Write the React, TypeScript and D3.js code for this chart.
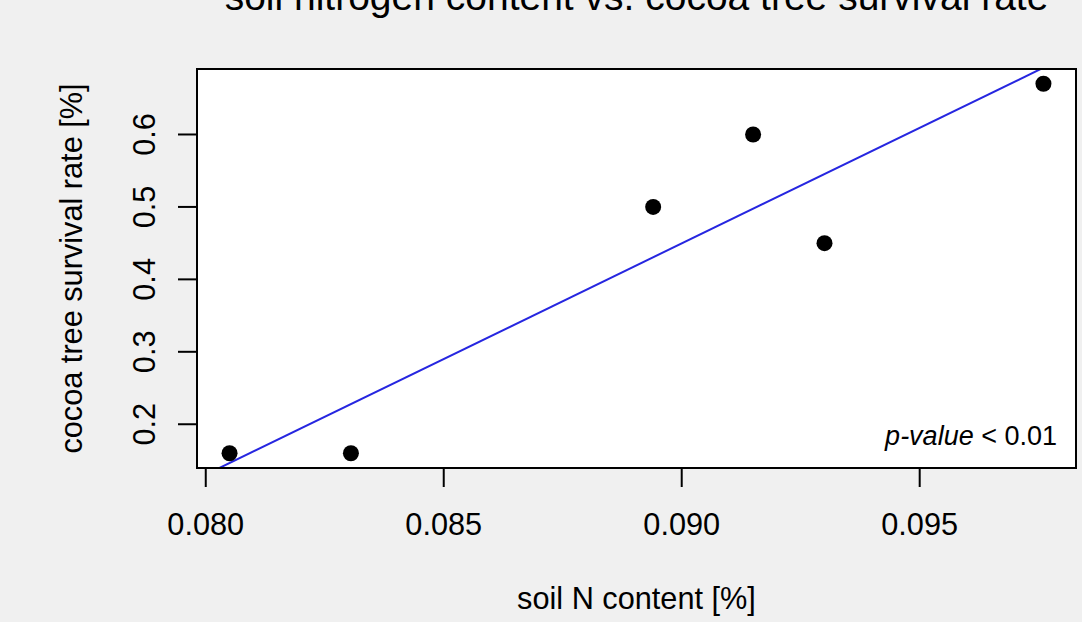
import React, { useEffect, useRef } from "react";
import * as d3 from "d3";

// soil N content [%] and cocoa tree survival rate per plot
const soilN = [0.0805, 0.08305, 0.0894, 0.0915, 0.093, 0.0976];
const survival = [0.16, 0.16, 0.5, 0.6, 0.45, 0.67];

const xTicks = [0.08, 0.085, 0.09, 0.095];
const xTickLabels = ["0.080", "0.085", "0.090", "0.095"];
const yTicks = [0.2, 0.3, 0.4, 0.5, 0.6];
const yTickLabels = ["0.2", "0.3", "0.4", "0.5", "0.6"];

const title = "soil nitrogen content vs. cocoa tree survival rate";
const xLabel = "soil N content [%]";
const yLabel = "cocoa tree survival rate [%]";

const W = 1082;
const H = 622;
const font = "'Liberation Sans', Arial, Helvetica, sans-serif";

// R style 4% range extension
const padRange = (vals: number[]) => {
  const [lo, hi] = d3.extent(vals) as [number, number];
  const d = (hi - lo) * 0.04;
  return [lo - d, hi + d];
};

const App = () => {
  const ref = useRef<SVGSVGElement>(null);

  useEffect(() => {
    document.body.style.margin = "0";
    const svg = d3.select(ref.current);
    svg.selectAll("*").remove();

    const plot = { left: 197, right: 1076, top: 69, bottom: 468 };

    const x = d3.scaleLinear().domain(padRange(soilN)).range([plot.left, plot.right]);
    const y = d3.scaleLinear().domain(padRange(survival)).range([plot.bottom, plot.top]);

    svg.append("rect").attr("width", W).attr("height", H).attr("fill", "#f0f0f0");
    svg
      .append("rect")
      .attr("x", plot.left)
      .attr("y", plot.top)
      .attr("width", plot.right - plot.left)
      .attr("height", plot.bottom - plot.top)
      .attr("fill", "#ffffff");

    svg
      .append("clipPath")
      .attr("id", "plotclip")
      .append("rect")
      .attr("x", plot.left)
      .attr("y", plot.top)
      .attr("width", plot.right - plot.left)
      .attr("height", plot.bottom - plot.top);

    // least squares fit, like abline(lm(...))
    const mx = d3.mean(soilN) as number;
    const my = d3.mean(survival) as number;
    const sxy = d3.sum(soilN, (v, i) => (v - mx) * (survival[i] - my));
    const sxx = d3.sum(soilN, (v) => (v - mx) * (v - mx));
    const slope = sxy / sxx;
    const icpt = my - slope * mx;
    const [x0, x1] = x.domain();
    const fit: [number, number][] = [
      [x0 - 0.01, icpt + slope * (x0 - 0.01)],
      [x1 + 0.01, icpt + slope * (x1 + 0.01)],
    ];

    svg
      .append("path")
      .attr("clip-path", "url(#plotclip)")
      .attr("fill", "none")
      .attr("stroke", "#2626e0")
      .attr("stroke-width", 2)
      .attr(
        "d",
        d3
          .line<[number, number]>()
          .x((d) => x(d[0]))
          .y((d) => y(d[1]))(fit)
      );

    svg
      .append("g")
      .selectAll("circle")
      .data(soilN)
      .join("circle")
      .attr("cx", (d) => x(d))
      .attr("cy", (d, i) => y(survival[i]))
      .attr("r", 8)
      .attr("fill", "#000");

    svg
      .append("rect")
      .attr("x", plot.left)
      .attr("y", plot.top)
      .attr("width", plot.right - plot.left)
      .attr("height", plot.bottom - plot.top)
      .attr("fill", "none")
      .attr("stroke", "#000")
      .attr("stroke-width", 2);

    // x axis
    const gx = svg.append("g").attr("stroke", "#000").attr("stroke-width", 2);
    gx.append("line")
      .attr("x1", x(xTicks[0]))
      .attr("x2", x(xTicks[xTicks.length - 1]))
      .attr("y1", plot.bottom)
      .attr("y2", plot.bottom);
    gx.selectAll("line.tick")
      .data(xTicks)
      .join("line")
      .attr("class", "tick")
      .attr("x1", (d) => x(d))
      .attr("x2", (d) => x(d))
      .attr("y1", plot.bottom)
      .attr("y2", plot.bottom + 19);
    svg
      .append("g")
      .selectAll("text")
      .data(xTicks)
      .join("text")
      .attr("x", (d) => x(d))
      .attr("y", 535)
      .attr("text-anchor", "middle")
      .attr("font-family", font)
      .attr("font-size", 30.7)
      .attr("fill", "#000")
      .text((d, i) => xTickLabels[i]);

    // y axis
    const gy = svg.append("g").attr("stroke", "#000").attr("stroke-width", 2);
    gy.append("line")
      .attr("x1", plot.left)
      .attr("x2", plot.left)
      .attr("y1", y(yTicks[0]))
      .attr("y2", y(yTicks[yTicks.length - 1]));
    gy.selectAll("line.tick")
      .data(yTicks)
      .join("line")
      .attr("class", "tick")
      .attr("x1", plot.left - 19)
      .attr("x2", plot.left)
      .attr("y1", (d) => y(d))
      .attr("y2", (d) => y(d));
    svg
      .append("g")
      .selectAll("text")
      .data(yTicks)
      .join("text")
      .attr("transform", (d) => `translate(155,${y(d)}) rotate(-90)`)
      .attr("text-anchor", "middle")
      .attr("font-family", font)
      .attr("font-size", 30.7)
      .attr("fill", "#000")
      .text((d, i) => yTickLabels[i]);

    const cx = (plot.left + plot.right) / 2;
    const cy = (plot.top + plot.bottom) / 2;

    // title sits partly above the page edge, as in the original
    svg
      .append("text")
      .attr("x", cx)
      .attr("y", 10)
      .attr("text-anchor", "middle")
      .attr("font-family", font)
      .attr("font-size", 39)
      .attr("fill", "#000")
      .text(title);

    svg
      .append("text")
      .attr("x", cx)
      .attr("y", 609)
      .attr("text-anchor", "middle")
      .attr("font-family", font)
      .attr("font-size", 30.7)
      .attr("fill", "#000")
      .text(xLabel);

    svg
      .append("text")
      .attr("transform", `translate(82,${cy}) rotate(-90)`)
      .attr("text-anchor", "middle")
      .attr("font-family", font)
      .attr("font-size", 30.7)
      .attr("fill", "#000")
      .text(yLabel);

    const pv = svg
      .append("text")
      .attr("x", 1057)
      .attr("y", 445)
      .attr("text-anchor", "end")
      .attr("font-family", font)
      .attr("font-size", 27)
      .attr("fill", "#000");
    pv.append("tspan").attr("font-style", "italic").text("p-value");
    pv.append("tspan").text(" < 0.01");
  }, []);

  return (
    <div>
      <svg ref={ref} width={W} height={H} style={{ display: "block" }} />
    </div>
  );
};

export default App;
